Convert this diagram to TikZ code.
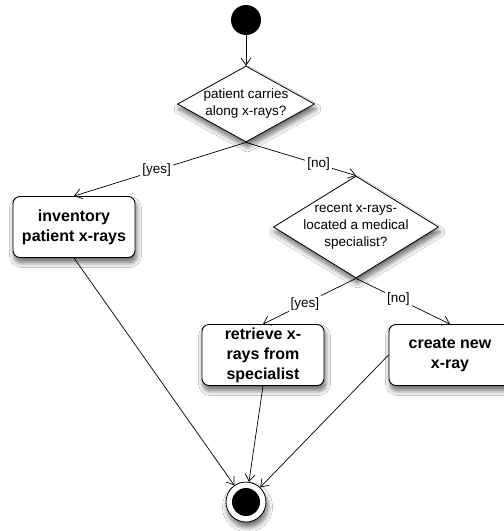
\documentclass[tikz,border=0pt]{standalone}
\usepackage{fontspec}
\setmainfont{Liberation Sans}
\usetikzlibrary{shapes.geometric,arrows.meta,shadows.blur}

\tikzset{
  shade/.style={blur shadow={shadow xshift=1.5pt,shadow yshift=-5pt,shadow blur radius=5pt,shadow blur steps=8,shadow opacity=60}},
  action/.style={draw,line width=0.9pt,rectangle,rounded corners=7pt,fill=white,
    minimum width=122pt,minimum height=61pt,inner sep=2pt,align=center,
    font=\fontsize{16}{20}\selectfont\bfseries,shade},
  decision/.style={draw,line width=0.8pt,diamond,fill=white,inner sep=0pt,shade},
  dtext/.style={align=center,inner sep=0pt,font=\fontsize{13.5}{17}\selectfont},
  guard/.style={fill=white,inner sep=2pt,font=\fontsize{13.5}{16}\selectfont},
  flow/.style={->,line width=0.7pt},
}

\begin{document}
\begin{tikzpicture}[x=1pt,y=-1pt,>={Straight Barb[length=7pt,width=10pt]}]
\clip (0,0) rectangle (504,531);
\fill[white] (0,0) rectangle (504,531);

% start and end
\node[circle,fill=black,minimum size=30pt,inner sep=0pt] (start) at (246,20) {};
\node[circle,draw,line width=0.8pt,fill=white,minimum size=40pt,inner sep=0pt,shade] (end) at (246,502) {};
\node[circle,fill=black,minimum size=28pt,inner sep=0pt] (endin) at (end) {};

% decisions
\node[decision,minimum width=137pt,minimum height=76pt] (carry) at (246,104) {};
\node[dtext] (carryt) at (carry) {patient carries\\along x-rays?};
\node[decision,minimum width=165pt,minimum height=102pt] (recent) at (356,227) {};
\node[dtext] (recentt) at (recent) {recent x-rays-\\located a medical\\specialist?};

% actions
\node[action] (inventory) at (74,227) {inventory\\patient x-rays};
\node[action] (retrieve) at (263,355) {retrieve x-\\rays from\\specialist};
\node[action] (create) at (450,355) {create new\\x-ray};

% flows
\draw[flow] (start) -- (carry.north);
\draw[flow] (carry.south) -- node[guard,pos=0.52]{[yes]} (inventory.north);
\draw[flow] (carry.south) -- node[guard,pos=0.66]{[no]} (recent.north);
\draw[flow] (recent.south) -- node[guard,pos=0.55]{[yes]} (retrieve.north);
\draw[flow] (recent.south) -- node[guard,pos=0.45]{[no]} (create.north);
\draw[flow] (inventory.south) -- (end);
\draw[flow] (retrieve.south) -- (end);
\draw[flow] (create.west) -- (end);

\end{tikzpicture}
\end{document}
